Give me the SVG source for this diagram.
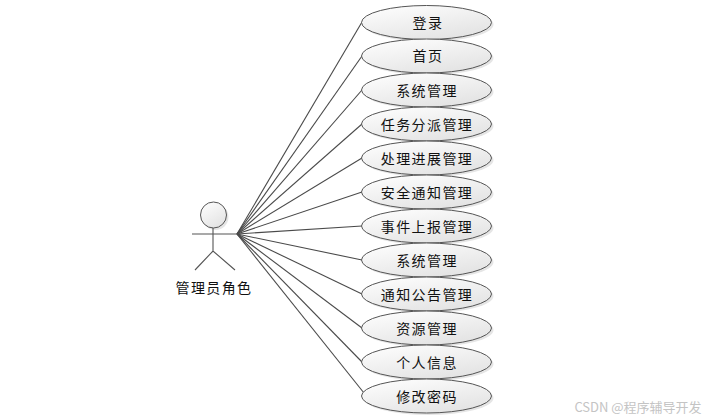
<svg xmlns="http://www.w3.org/2000/svg" width="712" height="420" viewBox="0 0 712 420">
<style>
text{font-family:"Noto Sans CJK SC","Noto Sans CJK JP",sans-serif;font-size:14px;fill:#111;text-anchor:middle;letter-spacing:1.4px}
.u{fill:url(#g);stroke:#555;stroke-width:1}
.s{fill:#000;opacity:.1}
.c line{stroke:#4a4a4a;stroke-width:1.1}
.a{fill:none;stroke:#555;stroke-width:1.1}
.w{font-size:13px;fill:#c4c4c4;letter-spacing:0}
</style>
<defs><linearGradient id="g" x1="0" y1="0" x2="0.6" y2="1"><stop offset="0" stop-color="#fff"/><stop offset="1" stop-color="#e4e4e4"/></linearGradient></defs>
<rect width="712" height="420" fill="#fff"/>
<g id="connectors" class="c">
<line x1="237" y1="234" x2="362" y2="22"/><line x1="237" y1="234" x2="362" y2="56"/><line x1="237" y1="234" x2="362" y2="90"/><line x1="237" y1="234" x2="362" y2="124"/><line x1="237" y1="234" x2="362" y2="158"/><line x1="237" y1="234" x2="362" y2="192"/><line x1="237" y1="234" x2="362" y2="226"/><line x1="237" y1="234" x2="362" y2="260"/><line x1="237" y1="234" x2="362" y2="294"/><line x1="237" y1="234" x2="362" y2="328"/><line x1="237" y1="234" x2="362" y2="362"/><line x1="237" y1="234" x2="364" y2="393"/>
</g>
<g id="actor">
<circle class="s" cx="215.500" cy="217" r="13"/>
<circle class="u" cx="213.500" cy="215" r="13"/>
<path class="a" d="M213 228V251M192 234H237M195 270L213 251L235 270"/>
<text x="214" y="292.500">管理员角色</text>
</g>
<g id="u1"><ellipse class="s" cx="428.500" cy="24.500" rx="65" ry="17"/><ellipse class="u" cx="426.500" cy="22.500" rx="65" ry="17"/><text x="428" y="27.500">登录</text></g>
<g id="u2"><ellipse class="s" cx="428.500" cy="58" rx="65" ry="17"/><ellipse class="u" cx="426.500" cy="56" rx="65" ry="17"/><text x="428" y="61">首页</text></g>
<g id="u3"><ellipse class="s" cx="428.500" cy="92" rx="65" ry="17"/><ellipse class="u" cx="426.500" cy="90" rx="65" ry="17"/><text x="427" y="95.500">系统管理</text></g>
<g id="u4"><ellipse class="s" cx="428.500" cy="126" rx="65" ry="17"/><ellipse class="u" cx="426.500" cy="124" rx="65" ry="17"/><text x="427" y="129.500">任务分派管理</text></g>
<g id="u5"><ellipse class="s" cx="428.500" cy="160" rx="65" ry="17"/><ellipse class="u" cx="426.500" cy="158" rx="65" ry="17"/><text x="427" y="163.500">处理进展管理</text></g>
<g id="u6"><ellipse class="s" cx="428.500" cy="194" rx="65" ry="17"/><ellipse class="u" cx="426.500" cy="192" rx="65" ry="17"/><text x="427" y="197.500">安全通知管理</text></g>
<g id="u7"><ellipse class="s" cx="428.500" cy="228" rx="65" ry="17"/><ellipse class="u" cx="426.500" cy="226" rx="65" ry="17"/><text x="427" y="231.500">事件上报管理</text></g>
<g id="u8"><ellipse class="s" cx="428.500" cy="262" rx="65" ry="17"/><ellipse class="u" cx="426.500" cy="260" rx="65" ry="17"/><text x="427" y="265.500">系统管理</text></g>
<g id="u9"><ellipse class="s" cx="428.500" cy="296" rx="65" ry="17"/><ellipse class="u" cx="426.500" cy="294" rx="65" ry="17"/><text x="427" y="299.500">通知公告管理</text></g>
<g id="u10"><ellipse class="s" cx="428.500" cy="330" rx="65" ry="17"/><ellipse class="u" cx="426.500" cy="328" rx="65" ry="17"/><text x="427" y="333.500">资源管理</text></g>
<g id="u11"><ellipse class="s" cx="428.500" cy="364" rx="65" ry="17"/><ellipse class="u" cx="426.500" cy="362" rx="65" ry="17"/><text x="427" y="367.500">个人信息</text></g>
<g id="u12"><ellipse class="s" cx="428.500" cy="398" rx="65" ry="17"/><ellipse class="u" cx="426.500" cy="396" rx="65" ry="17"/><text x="427" y="401.500">修改密码</text></g>
<text class="w" x="638" y="411.500">CSDN @程序辅导开发</text>
</svg>
